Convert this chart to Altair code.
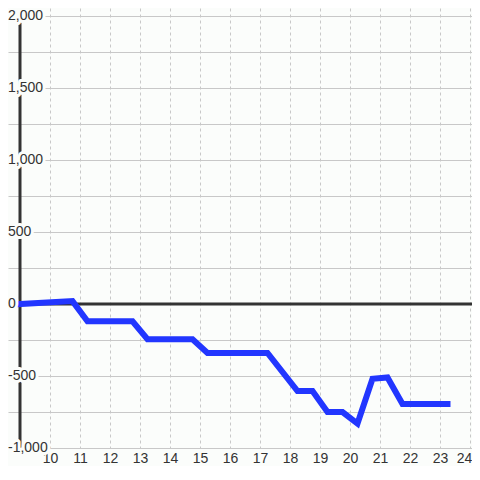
import altair as alt
import pandas as pd

# Series values
hours = [9, 10.75, 11.25, 12.75, 13.25, 14.75, 15.25, 17.25, 18.25, 18.75,
         19.25, 19.75, 20.25, 20.75, 21.25, 21.75, 23.25]
values = [0, 20, -120, -120, -245, -245, -340, -340, -605, -605,
          -750, -750, -830, -520, -510, -695, -695]

y_label_values = [-1000, -500, 0, 500, 1000, 1500, 2000]
y_grid_values = [-1000, -750, -500, -250, 0, 250, 500, 750, 1000, 1250, 1500, 1750, 2000]
x_label_values = [10, 11, 12, 13, 14, 15, 16, 17, 18, 19, 20, 21, 22, 23, 24]

X_DOMAIN = [8.6, 24.0667]
Y_DOMAIN = [-1000, 2055.6]
AXIS_X = 9

BG = "#fbfdfb"
DARK = "#333333"
BLUE = "#2236ff"
FONT = "Liberation Sans"

line_df = pd.DataFrame({"h": hours, "v": values})
lab_df = pd.DataFrame({"v": y_label_values,
                       "t": [f"{v:,}" for v in y_label_values]})
yaxis_df = pd.DataFrame({"h": [AXIS_X], "v": [y_label_values[0]], "v2": [y_label_values[-1]]})
zero_df = pd.DataFrame({"v": [0]})

xs = alt.Scale(domain=X_DOMAIN, nice=False, zero=False)
ys = alt.Scale(domain=Y_DOMAIN, nice=False, zero=False)

x_axis = alt.Axis(values=x_label_values, title=None, ticks=False, domain=False,
                  grid=True, gridColor="#c8c8c8", gridDash=[3, 3], gridWidth=1,
                  labelFont=FONT, labelFontSize=14, labelColor=DARK, labelPadding=3,
                  labelOverlap=False, labelFlush=False, labelBound=False,
                  labelOffset=alt.condition(f"datum.value == {x_label_values[-1]}",
                                            alt.value(-6), alt.value(0)),
                  format="d")
y_axis = alt.Axis(values=y_grid_values, title=None, ticks=False, domain=False,
                  labels=False, grid=True, gridColor="#c8c8c8", gridWidth=1)

yaxis_rule = alt.Chart(yaxis_df).mark_rule(color=DARK, strokeWidth=3).encode(
    x=alt.X("h:Q", scale=xs, axis=x_axis),
    y=alt.Y("v:Q", scale=ys, axis=y_axis),
    y2="v2:Q",
)

zero_rule = alt.Chart(zero_df).mark_rule(color=DARK, strokeWidth=3).encode(
    y=alt.Y("v:Q", scale=ys, axis=y_axis),
)

base_line = alt.Chart(line_df).mark_line(
    color=BLUE, strokeWidth=6, strokeCap="square", strokeJoin="miter"
).encode(
    x=alt.X("h:Q", scale=xs, axis=x_axis),
    y=alt.Y("v:Q", scale=ys, axis=y_axis),
)

mask = alt.Chart(lab_df).mark_text(
    align="left", baseline="middle", font=FONT, fontSize=14,
    fill=BG, stroke=BG, strokeWidth=6, strokeJoin="round"
).encode(
    x=alt.value(0),
    y=alt.Y("v:Q", scale=ys, axis=y_axis),
    text="t:N",
)

labels = alt.Chart(lab_df).mark_text(
    align="left", baseline="middle", font=FONT, fontSize=14, color=DARK
).encode(
    x=alt.value(0),
    y=alt.Y("v:Q", scale=ys, axis=y_axis),
    text="t:N",
)

chart = alt.layer(yaxis_rule, zero_rule, base_line, mask, labels).properties(
    width=464, height=440,
    autosize=alt.AutoSizeParams(type="none"),
    padding={"left": 0, "top": 0, "right": 0, "bottom": 18},
    background=BG,
).configure_view(stroke=None)

chart.save("out.html", embed_options={"renderer": "svg", "actions": False})
